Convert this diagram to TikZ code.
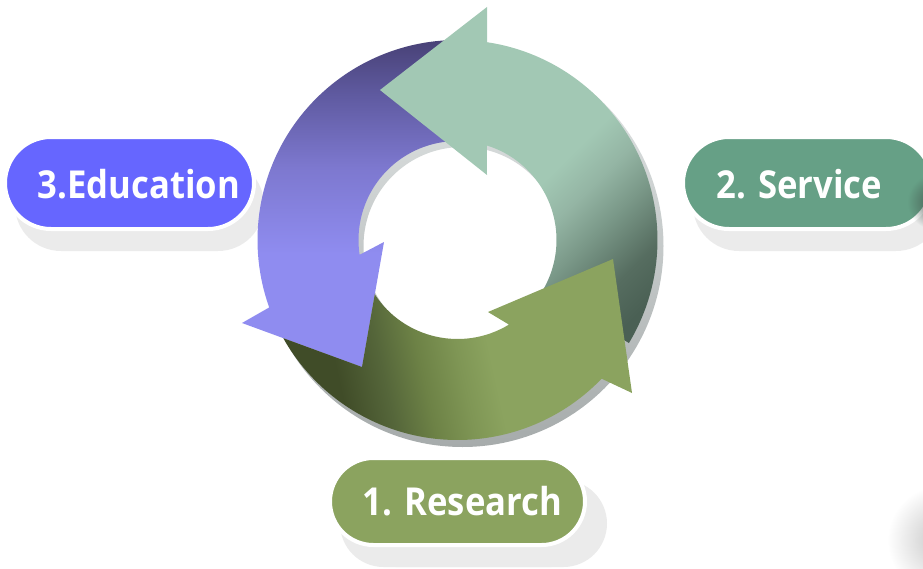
\documentclass[tikz,border=0pt]{standalone}
\usepackage{fontspec}
\newfontfamily\pillfont{Open Sans}[FakeStretch=0.9]
\usetikzlibrary{shadows, fadings}

% colours of the labels
\definecolor{edupill}{HTML}{6666FF}
\definecolor{servicepill}{HTML}{66A086}
\definecolor{researchpill}{HTML}{8BA35F}
\definecolor{pillshadow}{HTML}{EBEBEB}
% colours of the ring
\definecolor{lavlight}{HTML}{8F8CF0}
\definecolor{lavmid}{HTML}{7D78CF}
\definecolor{lavdeep}{HTML}{5F5AA0}
\definecolor{lavdark}{HTML}{463F72}
\definecolor{mintlight}{HTML}{A2C8B4}
\definecolor{mintpale}{HTML}{94B5A4}
\definecolor{mintmid}{HTML}{7A9888}
\definecolor{mintdeep}{HTML}{566D60}
\definecolor{mintdark}{HTML}{4A6054}
\definecolor{olivelight}{HTML}{8BA35F}
\definecolor{olivepale}{HTML}{7F9655}
\definecolor{olivemid}{HTML}{6D8246}
\definecolor{olivedeep}{HTML}{55663A}
\definecolor{olivedark}{HTML}{404C28}
\definecolor{ringshadowlight}{HTML}{E4E8E8}
\definecolor{ringshadowdark}{HTML}{A6ABAB}
\definecolor{smudgegreen}{HTML}{465C52}
\definecolor{smudgegray}{HTML}{C4C4C4}

% shadings of the three arrows
\pgfdeclareverticalshading{edushade}{100bp}{color(0bp)=(lavlight); color(42bp)=(lavlight); color(55bp)=(lavmid); color(66bp)=(lavdeep); color(75bp)=(lavdark); color(100bp)=(lavdark)}
\pgfdeclareverticalshading{serviceshade}{100bp}{color(0bp)=(mintdark); color(21bp)=(mintdark); color(27bp)=(mintdeep); color(35bp)=(mintmid); color(41bp)=(mintpale); color(47bp)=(mintlight); color(100bp)=(mintlight)}
\pgfdeclareverticalshading{researchshade}{100bp}{color(0bp)=(olivedark); color(31bp)=(olivedark); color(38bp)=(olivedeep); color(44bp)=(olivemid); color(50bp)=(olivepale); color(55bp)=(olivelight); color(100bp)=(olivelight)}

\tikzfading[name=softspot, inner color=transparent!0, outer color=transparent!100]

\begin{document}
\begin{tikzpicture}[x=1pt, y=1pt,
    pill/.style={draw=white, line width=4pt, rounded corners=46pt, minimum width=249pt, minimum height=92pt,
        drop shadow={shadow xshift=10pt, shadow yshift=-22pt, fill=pillshadow, opacity=1}},
    pilltext/.style={text=white, anchor=base, font=\pillfont\bfseries\fontsize{38.5}{42}\selectfont}]
    \useasboundingbox (-457.5,-328) rectangle (465.5,240);

    % Labels
    \node[pill, fill=edupill] (edupill) at (-328,57) {};
    \node[pilltext] (edutext) at (-318.5,42) {3.Education};
    \node[pill, fill=servicepill] (servicepill) at (350,57) {};
    \node[pilltext] (servicetext) at (342,42) {2. Service};
    \node[pill, fill=researchpill, minimum width=255pt, minimum height=87pt, rounded corners=43.5pt,
        drop shadow={shadow xshift=22pt, shadow yshift=-22pt, fill=pillshadow, opacity=1}] (researchpill) at (0,-261.5) {};
    \node[pilltext] (researchtext) at (5,-275) {1. Research};

    % Smudges at the right edge
    \fill[smudgegreen, path fading=softspot] (478,38) circle[radius=28];
    \fill[smudgegray, path fading=softspot] (485,-300) circle[radius=55];

    % Shadow of the ring
    \shade[top color=ringshadowlight, bottom color=ringshadowdark, even odd rule]
        (5,-6) circle[radius=201] (5,-6) circle[radius=99];

    % Education arrow
    \shade[shading=edushade] (85:200) arc[start angle=85, end angle=199.7, radius=200]
        -- (-215.5,-83) -- (-95.5,-127) -- (-73.5,-2) -- (188.6:99)
        arc[start angle=188.6, end angle=85, radius=99] -- cycle;

    % Service arrow
    \shade[shading=serviceshade, shading angle=44.5] (72.7:99) -- (29.5,65) -- (-77.5,150) -- (29.5,233)
        -- (81.5:200) arc[start angle=81.5, end angle=-31, radius=200]
        -- (-31:99) arc[start angle=-31, end angle=72.7, radius=99] -- cycle;

    % Research arrow
    \shade[shading=researchshade, shading angle=-77.6] (209.4:200) -- (-95.5,-127) -- (213.3:99)
        arc[start angle=213.3, end angle=301.3, radius=99]
        -- (30.5,-72) -- (155.5,-19) -- (174.5,-153)
        -- (316.1:200) arc[start angle=316.1, end angle=209.4, radius=200] -- cycle;
\end{tikzpicture}
\end{document}
